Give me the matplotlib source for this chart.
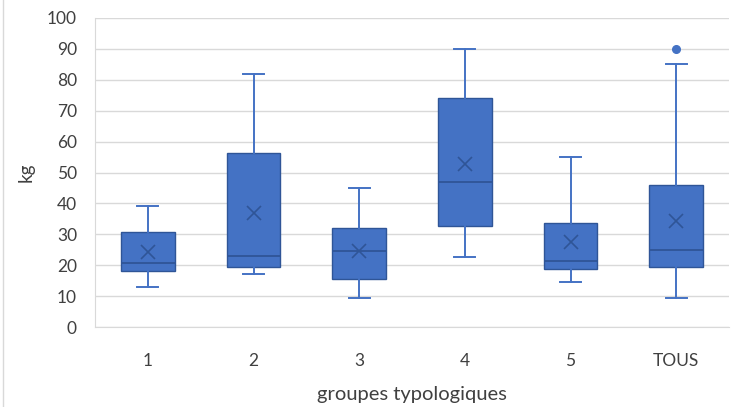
import matplotlib.pyplot as plt
from matplotlib.lines import Line2D

plt.rcParams['font.family'] = ['Lato', 'DejaVu Sans']

# box plot statistics (kg)
groups = ['1', '2', '3', '4', '5', 'TOUS']
whisk_low = [13.0, 17.3, 9.4, 22.5, 14.6, 9.4]
q1 = [18.1, 19.4, 15.6, 32.8, 18.9, 19.4]
medians = [20.7, 22.9, 24.5, 47.0, 21.5, 24.8]
q3 = [30.6, 56.3, 31.9, 74.0, 33.5, 46.1]
whisk_high = [39.0, 81.9, 45.0, 90.0, 55.1, 85.2]
means = [24.2, 36.9, 24.5, 52.6, 27.6, 34.2]
outliers = [[], [], [], [], [], [90.0]]

FILL = '#4472C4'
EDGE = '#2F5597'
TXT = '#404040'

stats = []
for i in range(len(groups)):
    stats.append({'label': groups[i], 'whislo': whisk_low[i], 'q1': q1[i],
                  'med': medians[i], 'q3': q3[i], 'whishi': whisk_high[i],
                  'mean': means[i], 'fliers': outliers[i]})

fig = plt.figure(figsize=(7.42, 4.07), dpi=100)
ax = fig.add_axes([95 / 742, 1 - 327 / 407, 634 / 742, 309 / 407])

ax.bxp(stats, positions=range(1, len(groups) + 1), widths=0.51,
       patch_artist=True, showmeans=True,
       boxprops=dict(facecolor=FILL, edgecolor=EDGE, linewidth=1.0),
       medianprops=dict(color=EDGE, linewidth=1.3),
       whiskerprops=dict(color=FILL, linewidth=1.4),
       capprops=dict(color=FILL, linewidth=1.4),
       capwidths=0.2,
       meanprops=dict(marker='x', markeredgecolor=EDGE, markersize=10,
                      markeredgewidth=1.2),
       flierprops=dict(marker='o', markerfacecolor=FILL, markeredgecolor=FILL,
                       markersize=5.5))

ax.set_xlim(0.5, len(groups) + 0.5)
ax.set_ylim(0, 100)
ax.set_yticks(range(0, 101, 10))
ax.yaxis.grid(True, color='#D9D9D9', linewidth=1.0)
ax.set_axisbelow(True)
for s in ['top', 'right']:
    ax.spines[s].set_visible(False)
ax.spines['left'].set_color('#D9D9D9')
ax.spines['bottom'].set_color('#D9D9D9')
ax.tick_params(axis='both', length=0, labelsize=12.5, colors=TXT)
ax.tick_params(axis='y', pad=13)
ax.tick_params(axis='x', pad=19)

ax.set_ylabel('kg', fontsize=13.5, color=TXT)
ax.yaxis.set_label_coords(-0.096, 0.5)
ax.set_xlabel('groupes typologiques', fontsize=14.5, color=TXT, va='top')
ax.xaxis.set_label_coords(0.5, -0.19)

# light border on the left of the picture
fig.add_artist(Line2D([0.004, 0.004], [0, 1], color='#D9D9D9', linewidth=1.0))

fig.savefig('out.png', dpi=100)
